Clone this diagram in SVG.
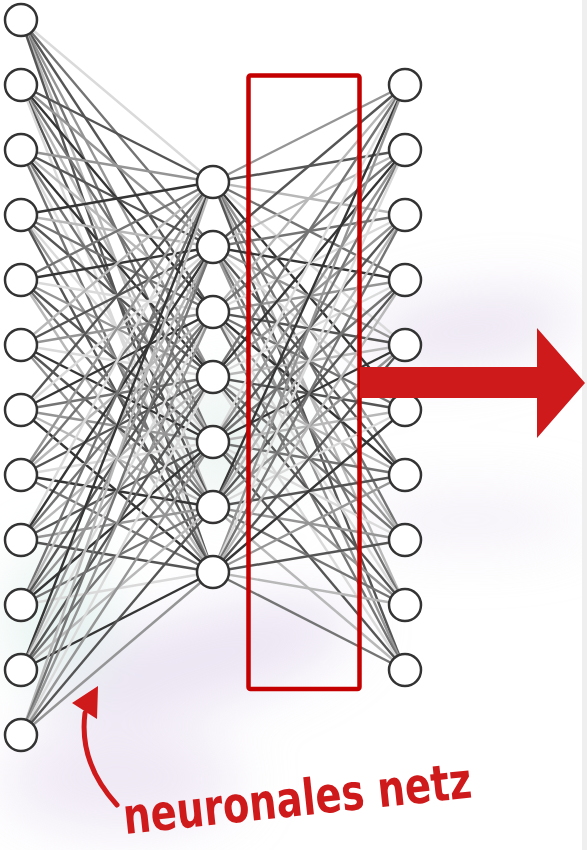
<svg xmlns="http://www.w3.org/2000/svg" width="587" height="850" viewBox="0 0 587 850">
<style>
.n{fill:#fff;stroke:#333;stroke-width:2.5}
#connectors line{stroke-width:2.4;fill:none}
.s0{stroke:#353535}.s1{stroke:#555}.s2{stroke:#747474}.s3{stroke:#959595}.s4{stroke:#b8b8b8}.s5{stroke:#dadada}
.red{fill:#cf1a1c}
.lbl{font-family:"DejaVu Sans","Liberation Sans",sans-serif;font-weight:bold;font-size:50px;fill:#cf1a1c}
</style>
<defs>
<filter id="blur" x="-50%" y="-50%" width="200%" height="200%"><feGaussianBlur stdDeviation="30"/></filter>
</defs>
<rect width="587" height="850" fill="#fff"/>
<g id="background" filter="url(#blur)" opacity="0.6">
<ellipse cx="470" cy="330" rx="110" ry="30" fill="#d9cce6" transform="rotate(-8 470 330)"/>
<ellipse cx="200" cy="660" rx="160" ry="45" fill="#ddd0ea" transform="rotate(-15 200 660)"/>
<ellipse cx="60" cy="620" rx="50" ry="70" fill="#d6ebe6"/>
<ellipse cx="120" cy="780" rx="120" ry="50" fill="#e4d9ee"/>
<ellipse cx="470" cy="520" rx="120" ry="25" fill="#ebe4f1"/>
<ellipse cx="230" cy="440" rx="60" ry="60" fill="#e0eeea"/>
</g>
<rect x="582" y="0" width="5" height="850" fill="#efefef"/>
<g id="connectors">
<line class="s5" x1="21" y1="20" x2="213" y2="182"/><line class="s2" x1="21" y1="20" x2="213" y2="247"/><line class="s1" x1="21" y1="20" x2="213" y2="312"/><line class="s3" x1="21" y1="20" x2="213" y2="377"/><line class="s2" x1="21" y1="20" x2="213" y2="442"/><line class="s4" x1="21" y1="20" x2="213" y2="507"/><line class="s1" x1="21" y1="20" x2="213" y2="572"/>
<line class="s1" x1="21" y1="85" x2="213" y2="182"/><line class="s3" x1="21" y1="85" x2="213" y2="247"/><line class="s0" x1="21" y1="85" x2="213" y2="312"/><line class="s2" x1="21" y1="85" x2="213" y2="377"/><line class="s4" x1="21" y1="85" x2="213" y2="442"/><line class="s1" x1="21" y1="85" x2="213" y2="507"/><line class="s5" x1="21" y1="85" x2="213" y2="572"/>
<line class="s3" x1="21" y1="150" x2="213" y2="182"/><line class="s1" x1="21" y1="150" x2="213" y2="247"/><line class="s4" x1="21" y1="150" x2="213" y2="312"/><line class="s0" x1="21" y1="150" x2="213" y2="377"/><line class="s2" x1="21" y1="150" x2="213" y2="442"/><line class="s5" x1="21" y1="150" x2="213" y2="507"/><line class="s2" x1="21" y1="150" x2="213" y2="572"/>
<line class="s0" x1="21" y1="215" x2="213" y2="182"/><line class="s4" x1="21" y1="215" x2="213" y2="247"/><line class="s2" x1="21" y1="215" x2="213" y2="312"/><line class="s1" x1="21" y1="215" x2="213" y2="377"/><line class="s5" x1="21" y1="215" x2="213" y2="442"/><line class="s3" x1="21" y1="215" x2="213" y2="507"/><line class="s1" x1="21" y1="215" x2="213" y2="572"/>
<line class="s2" x1="21" y1="280" x2="213" y2="182"/><line class="s0" x1="21" y1="280" x2="213" y2="247"/><line class="s5" x1="21" y1="280" x2="213" y2="312"/><line class="s3" x1="21" y1="280" x2="213" y2="377"/><line class="s1" x1="21" y1="280" x2="213" y2="442"/><line class="s2" x1="21" y1="280" x2="213" y2="507"/><line class="s4" x1="21" y1="280" x2="213" y2="572"/>
<line class="s4" x1="21" y1="345" x2="213" y2="182"/><line class="s1" x1="21" y1="345" x2="213" y2="247"/><line class="s3" x1="21" y1="345" x2="213" y2="312"/><line class="s5" x1="21" y1="345" x2="213" y2="377"/><line class="s0" x1="21" y1="345" x2="213" y2="442"/><line class="s1" x1="21" y1="345" x2="213" y2="507"/><line class="s3" x1="21" y1="345" x2="213" y2="572"/>
<line class="s1" x1="21" y1="410" x2="213" y2="182"/><line class="s5" x1="21" y1="410" x2="213" y2="247"/><line class="s0" x1="21" y1="410" x2="213" y2="312"/><line class="s2" x1="21" y1="410" x2="213" y2="377"/><line class="s3" x1="21" y1="410" x2="213" y2="442"/><line class="s4" x1="21" y1="410" x2="213" y2="507"/><line class="s0" x1="21" y1="410" x2="213" y2="572"/>
<line class="s3" x1="21" y1="475" x2="213" y2="182"/><line class="s2" x1="21" y1="475" x2="213" y2="247"/><line class="s4" x1="21" y1="475" x2="213" y2="312"/><line class="s1" x1="21" y1="475" x2="213" y2="377"/><line class="s5" x1="21" y1="475" x2="213" y2="442"/><line class="s0" x1="21" y1="475" x2="213" y2="507"/><line class="s2" x1="21" y1="475" x2="213" y2="572"/>
<line class="s5" x1="21" y1="540" x2="213" y2="182"/><line class="s0" x1="21" y1="540" x2="213" y2="247"/><line class="s2" x1="21" y1="540" x2="213" y2="312"/><line class="s4" x1="21" y1="540" x2="213" y2="377"/><line class="s1" x1="21" y1="540" x2="213" y2="442"/><line class="s3" x1="21" y1="540" x2="213" y2="507"/><line class="s1" x1="21" y1="540" x2="213" y2="572"/>
<line class="s2" x1="21" y1="605" x2="213" y2="182"/><line class="s4" x1="21" y1="605" x2="213" y2="247"/><line class="s1" x1="21" y1="605" x2="213" y2="312"/><line class="s3" x1="21" y1="605" x2="213" y2="377"/><line class="s0" x1="21" y1="605" x2="213" y2="442"/><line class="s2" x1="21" y1="605" x2="213" y2="507"/><line class="s5" x1="21" y1="605" x2="213" y2="572"/>
<line class="s0" x1="21" y1="670" x2="213" y2="182"/><line class="s3" x1="21" y1="670" x2="213" y2="247"/><line class="s5" x1="21" y1="670" x2="213" y2="312"/><line class="s1" x1="21" y1="670" x2="213" y2="377"/><line class="s2" x1="21" y1="670" x2="213" y2="442"/><line class="s4" x1="21" y1="670" x2="213" y2="507"/><line class="s0" x1="21" y1="670" x2="213" y2="572"/>
<line class="s4" x1="21" y1="735" x2="213" y2="182"/><line class="s2" x1="21" y1="735" x2="213" y2="247"/><line class="s3" x1="21" y1="735" x2="213" y2="312"/><line class="s5" x1="21" y1="735" x2="213" y2="377"/><line class="s3" x1="21" y1="735" x2="213" y2="442"/><line class="s1" x1="21" y1="735" x2="213" y2="507"/><line class="s3" x1="21" y1="735" x2="213" y2="572"/>
<line class="s3" x1="213" y1="182" x2="405" y2="85"/><line class="s1" x1="213" y1="182" x2="405" y2="150"/><line class="s4" x1="213" y1="182" x2="405" y2="215"/><line class="s2" x1="213" y1="182" x2="405" y2="280"/><line class="s5" x1="213" y1="182" x2="405" y2="345"/><line class="s0" x1="213" y1="182" x2="405" y2="410"/><line class="s3" x1="213" y1="182" x2="405" y2="475"/><line class="s2" x1="213" y1="182" x2="405" y2="540"/><line class="s4" x1="213" y1="182" x2="405" y2="605"/><line class="s1" x1="213" y1="182" x2="405" y2="670"/>
<line class="s1" x1="213" y1="247" x2="405" y2="85"/><line class="s4" x1="213" y1="247" x2="405" y2="150"/><line class="s2" x1="213" y1="247" x2="405" y2="215"/><line class="s0" x1="213" y1="247" x2="405" y2="280"/><line class="s3" x1="213" y1="247" x2="405" y2="345"/><line class="s5" x1="213" y1="247" x2="405" y2="410"/><line class="s1" x1="213" y1="247" x2="405" y2="475"/><line class="s4" x1="213" y1="247" x2="405" y2="540"/><line class="s2" x1="213" y1="247" x2="405" y2="605"/><line class="s3" x1="213" y1="247" x2="405" y2="670"/>
<line class="s4" x1="213" y1="312" x2="405" y2="85"/><line class="s2" x1="213" y1="312" x2="405" y2="150"/><line class="s5" x1="213" y1="312" x2="405" y2="215"/><line class="s3" x1="213" y1="312" x2="405" y2="280"/><line class="s1" x1="213" y1="312" x2="405" y2="345"/><line class="s2" x1="213" y1="312" x2="405" y2="410"/><line class="s0" x1="213" y1="312" x2="405" y2="475"/><line class="s3" x1="213" y1="312" x2="405" y2="540"/><line class="s5" x1="213" y1="312" x2="405" y2="605"/><line class="s2" x1="213" y1="312" x2="405" y2="670"/>
<line class="s2" x1="213" y1="377" x2="405" y2="85"/><line class="s0" x1="213" y1="377" x2="405" y2="150"/><line class="s3" x1="213" y1="377" x2="405" y2="215"/><line class="s5" x1="213" y1="377" x2="405" y2="280"/><line class="s4" x1="213" y1="377" x2="405" y2="345"/><line class="s1" x1="213" y1="377" x2="405" y2="410"/><line class="s4" x1="213" y1="377" x2="405" y2="475"/><line class="s2" x1="213" y1="377" x2="405" y2="540"/><line class="s1" x1="213" y1="377" x2="405" y2="605"/><line class="s5" x1="213" y1="377" x2="405" y2="670"/>
<line class="s5" x1="213" y1="442" x2="405" y2="85"/><line class="s3" x1="213" y1="442" x2="405" y2="150"/><line class="s1" x1="213" y1="442" x2="405" y2="215"/><line class="s2" x1="213" y1="442" x2="405" y2="280"/><line class="s0" x1="213" y1="442" x2="405" y2="345"/><line class="s4" x1="213" y1="442" x2="405" y2="410"/><line class="s2" x1="213" y1="442" x2="405" y2="475"/><line class="s5" x1="213" y1="442" x2="405" y2="540"/><line class="s3" x1="213" y1="442" x2="405" y2="605"/><line class="s1" x1="213" y1="442" x2="405" y2="670"/>
<line class="s0" x1="213" y1="507" x2="405" y2="85"/><line class="s2" x1="213" y1="507" x2="405" y2="150"/><line class="s4" x1="213" y1="507" x2="405" y2="215"/><line class="s1" x1="213" y1="507" x2="405" y2="280"/><line class="s3" x1="213" y1="507" x2="405" y2="345"/><line class="s5" x1="213" y1="507" x2="405" y2="410"/><line class="s1" x1="213" y1="507" x2="405" y2="475"/><line class="s3" x1="213" y1="507" x2="405" y2="540"/><line class="s2" x1="213" y1="507" x2="405" y2="605"/><line class="s4" x1="213" y1="507" x2="405" y2="670"/>
<line class="s3" x1="213" y1="572" x2="405" y2="85"/><line class="s5" x1="213" y1="572" x2="405" y2="150"/><line class="s2" x1="213" y1="572" x2="405" y2="215"/><line class="s4" x1="213" y1="572" x2="405" y2="280"/><line class="s1" x1="213" y1="572" x2="405" y2="345"/><line class="s0" x1="213" y1="572" x2="405" y2="410"/><line class="s3" x1="213" y1="572" x2="405" y2="475"/><line class="s1" x1="213" y1="572" x2="405" y2="540"/><line class="s4" x1="213" y1="572" x2="405" y2="605"/><line class="s2" x1="213" y1="572" x2="405" y2="670"/>
</g>
<rect id="highlight-box" x="248.5" y="75.5" width="111" height="613.5" rx="2" fill="none" stroke="#c40000" stroke-width="4.5"/>
<g id="input-layer">
<circle id="in1" class="n" cx="21" cy="20" r="16"/><circle id="in2" class="n" cx="21" cy="85" r="16"/><circle id="in3" class="n" cx="21" cy="150" r="16"/><circle id="in4" class="n" cx="21" cy="215" r="16"/><circle id="in5" class="n" cx="21" cy="280" r="16"/><circle id="in6" class="n" cx="21" cy="345" r="16"/><circle id="in7" class="n" cx="21" cy="410" r="16"/><circle id="in8" class="n" cx="21" cy="475" r="16"/><circle id="in9" class="n" cx="21" cy="540" r="16"/><circle id="in10" class="n" cx="21" cy="605" r="16"/><circle id="in11" class="n" cx="21" cy="670" r="16"/><circle id="in12" class="n" cx="21" cy="735" r="16"/>
</g>
<g id="hidden-layer">
<circle id="h1" class="n" cx="213" cy="182" r="16"/><circle id="h2" class="n" cx="213" cy="247" r="16"/><circle id="h3" class="n" cx="213" cy="312" r="16"/><circle id="h4" class="n" cx="213" cy="377" r="16"/><circle id="h5" class="n" cx="213" cy="442" r="16"/><circle id="h6" class="n" cx="213" cy="507" r="16"/><circle id="h7" class="n" cx="213" cy="572" r="16"/>
</g>
<g id="output-layer">
<circle id="o1" class="n" cx="405" cy="85" r="16"/><circle id="o2" class="n" cx="405" cy="150" r="16"/><circle id="o3" class="n" cx="405" cy="215" r="16"/><circle id="o4" class="n" cx="405" cy="280" r="16"/><circle id="o5" class="n" cx="405" cy="345" r="16"/><circle id="o6" class="n" cx="405" cy="410" r="16"/><circle id="o7" class="n" cx="405" cy="475" r="16"/><circle id="o8" class="n" cx="405" cy="540" r="16"/><circle id="o9" class="n" cx="405" cy="605" r="16"/><circle id="o10" class="n" cx="405" cy="670" r="16"/>
</g>
<polygon id="big-arrow" class="red" points="360,367 537,367 537,328 585,383 537,438 537,398 360,398"/>
<g id="label">
<path d="M117,805 C96,782 80,752 85,713" fill="none" stroke="#cf1a1c" stroke-width="5" stroke-linecap="round"/>
<polygon class="red" points="72,703 98,686 97,719"/>
<text class="lbl" x="125" y="834" textLength="350" lengthAdjust="spacingAndGlyphs" transform="rotate(-6 125 834)">neuronales netz</text>
</g>
</svg>
